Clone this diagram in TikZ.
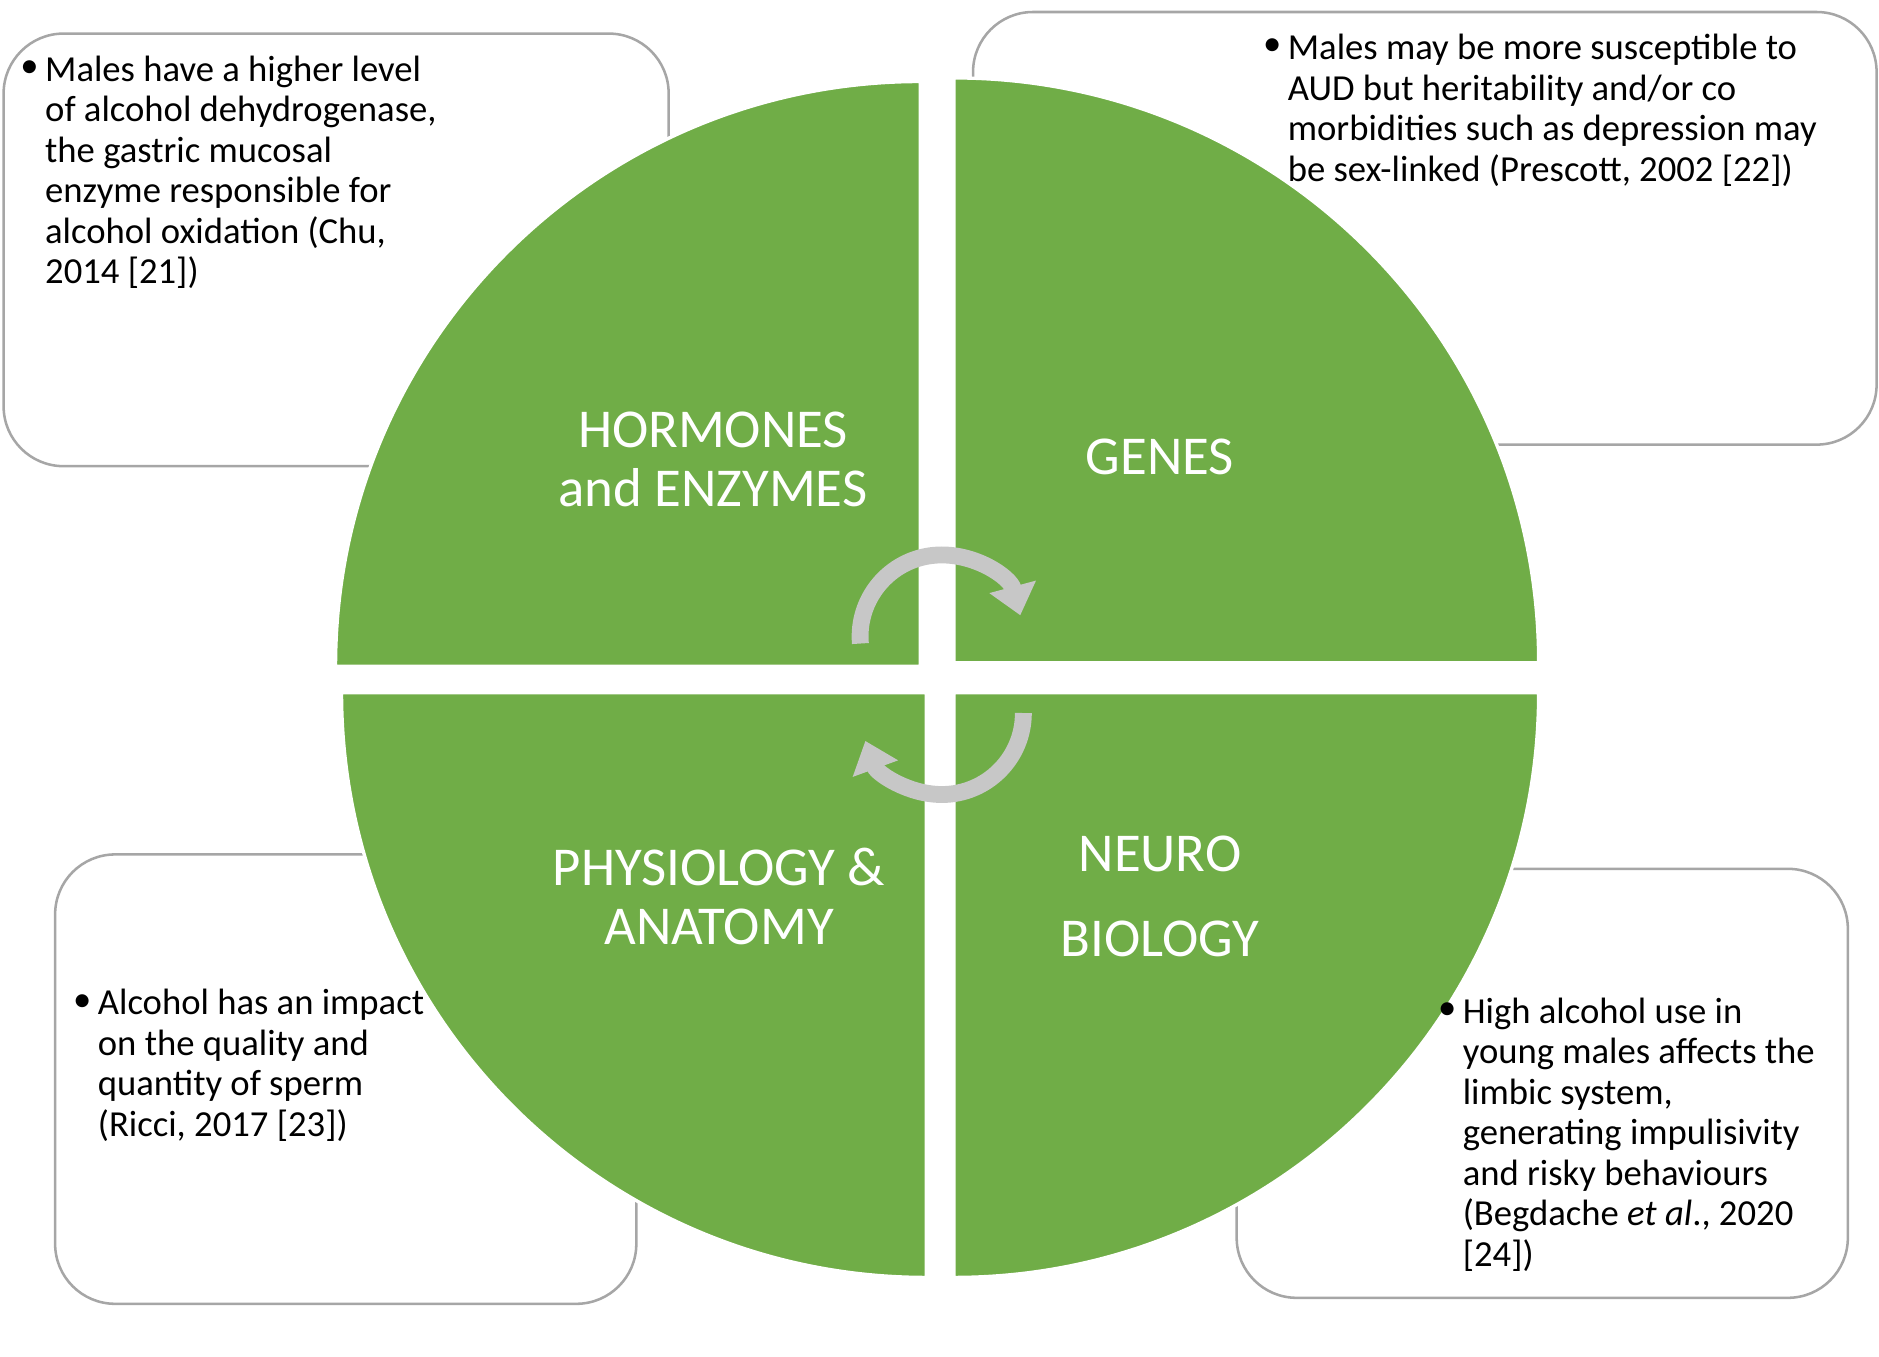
\documentclass[tikz,border=0pt]{standalone}
\usepackage{fontspec}
\setmainfont{Carlito}
\usetikzlibrary{arrows.meta}
\definecolor{qgreen}{HTML}{70AD47}
\begin{document}
\begin{tikzpicture}[x=0.01cm,y=0.01cm,
  box/.style={draw=black!35,line width=0.6pt,fill=white,rounded corners=0.5cm},
  quad/.style={fill=qgreen,draw=white,line width=0.8pt},
  txt/.style={anchor=north west,align=left,font=\fontsize{8.7}{9.6}\selectfont,inner sep=0pt},
  bul/.style={anchor=north east,font=\fontsize{8.7}{9.6}\selectfont,inner sep=0pt},
  lab/.style={align=center,text=white,font=\fontsize{13}{14}\selectfont},
  cyc/.style={draw=black!22,line width=4pt,-{Triangle[length=7pt,width=11pt]}}]
\useasboundingbox (0,0) rectangle (1568,-1132);
\draw[box] (3,-28) rectangle (558,-389);
\draw[box] (812,-10) rectangle (1566,-371);
\draw[box] (46,-713) rectangle (531,-1088);
\draw[box] (1032,-725) rectangle (1542,-1083);
\fill[quad] (768,-556) -- (280,-556) arc[start angle=180,end angle=90,radius=488] -- cycle;
\fill[quad] (796,-553) -- (796,-65) arc[start angle=90,end angle=0,radius=488] -- cycle;
\fill[quad] (773,-578) -- (773,-1066) arc[start angle=270,end angle=180,radius=488] -- cycle;
\fill[quad] (796,-578) -- (1284,-578) arc[start angle=0,end angle=-90,radius=488] -- cycle;
\node[lab] (he) at (595,-383) {HORMONES\\and ENZYMES};
\node[lab] (ge) at (968,-381) {GENES};
\node[lab] (pa) at (600,-748) {PHYSIOLOGY \&\\ANATOMY};
\node[lab,font=\fontsize{13}{20}\selectfont] (nb) at (968,-748) {NEURO\\BIOLOGY};
\draw[cyc] (718,-537) arc[start angle=185,end angle=15,radius=68];
\draw[cyc] (854,-595) arc[start angle=0,end angle=-160,radius=68];
\node[txt] (t1) at (37,-46) {Males have a higher level\\of alcohol dehydrogenase,\\the gastric mucosal\\enzyme responsible for\\alcohol oxidation (Chu,\\2014 [21])};
\node[bul] (b1) at (33,-50) {•};
\node[txt] (t2) at (1074,-28) {Males may be more susceptible to\\AUD but heritability and/or co\\morbidities such as depression may\\be sex-linked (Prescott, 2002 [22])};
\node[bul] (b2) at (1070,-32) {•};
\node[txt] (t3) at (81,-825) {Alcohol has an impact\\on the quality and\\quantity of sperm\\(Ricci, 2017 [23])};
\node[bul] (b3) at (77,-829) {•};
\node[txt] (t4) at (1220,-832) {High alcohol use in\\young males affects the\\limbic system,\\generating impulisivity\\and risky behaviours\\(Begdache \emph{et al}., 2020\\{[24]})};
\node[bul] (b4) at (1216,-836) {•};
\end{tikzpicture}
\end{document}
